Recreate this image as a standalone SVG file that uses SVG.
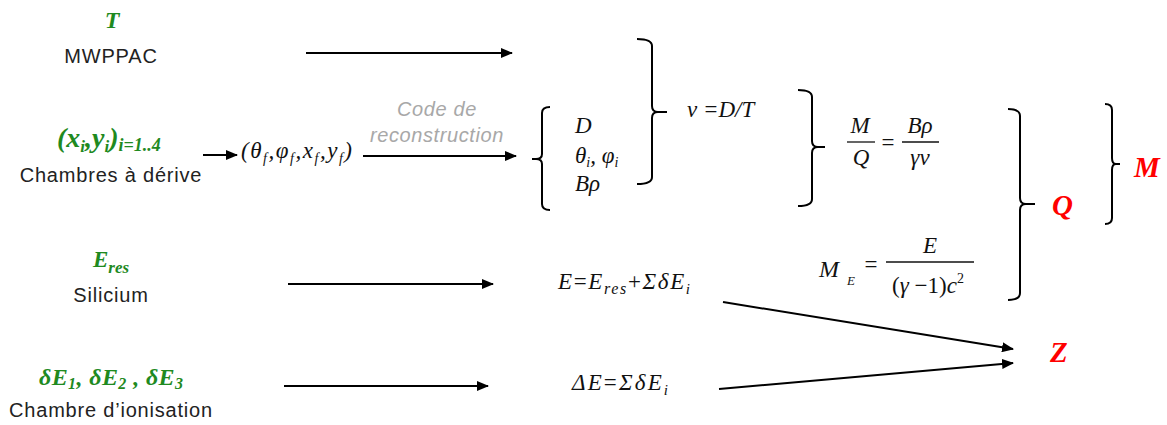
<svg xmlns="http://www.w3.org/2000/svg" width="1167" height="425" viewBox="0 0 1167 425">
<defs>
<marker id="ah" viewBox="0 0 12 10" refX="11" refY="5" markerWidth="12" markerHeight="10" markerUnits="userSpaceOnUse" orient="auto">
<path d="M0,0 L12,5 L0,10 Z" fill="#000"/>
</marker>
<style>
.lbl{font-family:"Liberation Sans",Arial,sans-serif;font-size:20px;fill:#222;letter-spacing:0.8px;text-anchor:middle}
.grn{font-family:"Liberation Serif","Times New Roman",serif;font-weight:bold;font-style:italic;fill:#1f8a1f}
.red{font-family:"Liberation Serif","Times New Roman",serif;font-weight:bold;font-style:italic;fill:#ff0000;font-size:29px}
.m{font-family:"Liberation Serif","Times New Roman",serif;font-style:italic;font-size:23px;fill:#111}
.up{font-style:normal}
.gry{font-family:"Liberation Sans",Arial,sans-serif;font-style:italic;font-size:20px;fill:#a8a8a8;letter-spacing:0.6px;text-anchor:middle}
.cn{stroke:#000;stroke-width:2;fill:none}
.br{stroke:#000;stroke-width:2;fill:none;stroke-linejoin:round}
.fl{stroke:#111;stroke-width:1.3}
</style>
</defs>
<rect width="1167" height="425" fill="#fff"/>

<g id="mwppac">
<text class="grn" x="112" y="28" style="font-size:24px" text-anchor="middle">T</text>
<text class="lbl" x="111" y="63">MWPPAC</text>
</g>

<g id="chambres">
<text class="grn" x="57" y="147" style="font-size:28px">(x<tspan style="font-size:17px" dy="5">i</tspan><tspan dy="-5">,y</tspan><tspan style="font-size:17px" dy="5">i</tspan><tspan dy="-5">)</tspan><tspan style="font-size:18px" dy="4">i=1..4</tspan></text>
<text class="lbl" x="111" y="182">Chambres à dérive</text>
</g>

<g id="silicium">
<text class="grn" x="93" y="267" style="font-size:23px">E<tspan style="font-size:17px" dy="6">res</tspan></text>
<text class="lbl" x="111" y="302">Silicium</text>
</g>

<g id="ionisation">
<text class="grn" x="39" y="385" style="font-size:24px" textLength="144" lengthAdjust="spacing">δE<tspan style="font-size:16px" dy="4">1</tspan><tspan dy="-4">, δE</tspan><tspan style="font-size:16px" dy="4">2</tspan><tspan dy="-4"> , δE</tspan><tspan style="font-size:16px" dy="4">3</tspan></text>
<text class="lbl" x="111" y="417">Chambre d’ionisation</text>
</g>

<g id="focal">
<text class="m" x="241" y="158" textLength="111" lengthAdjust="spacing">(θ<tspan style="font-size:14px" dy="5">f</tspan><tspan dy="-5">,φ</tspan><tspan style="font-size:14px" dy="5">f</tspan><tspan dy="-5">,x</tspan><tspan style="font-size:14px" dy="5">f</tspan><tspan dy="-5">,y</tspan><tspan style="font-size:14px" dy="5">f</tspan><tspan dy="-5">)</tspan></text>
</g>

<g id="code-label">
<text class="gry" x="437" y="116">Code de</text>
<text class="gry" x="437" y="142">reconstruction</text>
</g>

<g id="reco">
<path class="br" d="M550,107 Q542,107 542,113 V154 Q542,159 536,159 H532 M536,159 Q542,159 542,164 V204 Q542,210 550,210"/>
<text class="m" x="575" y="133">D</text>
<text class="m" x="575" y="163">θ<tspan style="font-size:14px" dy="4">i</tspan><tspan dy="-4">, φ</tspan><tspan style="font-size:14px" dy="4">i</tspan></text>
<text class="m" x="575" y="191">Bρ</text>
</g>

<g id="brace1">
<path class="br" d="M637,39 Q652,39 652,46 V106 Q652,112 658,112 H667 M658,112 Q652,112 652,118 V177 Q652,184 637,184"/>
</g>

<g id="velocity">
<text class="m" x="687" y="117">ν =D/T</text>
</g>

<g id="brace2">
<path class="br" d="M798,90 Q812,90 812,97 V141 Q812,147 818,147 H825 M818,147 Q812,147 812,153 V199 Q812,206 798,206"/>
</g>

<g id="mq">
<text class="m" x="860" y="133" text-anchor="middle">M</text>
<line class="fl" x1="847" y1="142" x2="875" y2="142"/>
<text class="m" x="861" y="165" text-anchor="middle">Q</text>
<text class="m up" x="888" y="150" text-anchor="middle">=</text>
<text class="m" x="920" y="133" text-anchor="middle">Bρ</text>
<line class="fl" x1="902" y1="142" x2="939" y2="142"/>
<text class="m" x="920" y="165" text-anchor="middle">γν</text>
</g>

<g id="me">
<text class="m" x="819" y="277" style="font-size:24px">M</text>
<text class="m" x="847" y="285" style="font-size:13px">E</text>
<text class="m up" x="871" y="272" text-anchor="middle">=</text>
<text class="m" x="930" y="253" text-anchor="middle">E</text>
<line class="fl" x1="886" y1="262" x2="974" y2="262"/>
<text class="m" x="928" y="293" text-anchor="middle"><tspan class="up">(</tspan>γ <tspan class="up">−1)</tspan>c<tspan class="up" style="font-size:14px" dy="-10">2</tspan></text>
</g>

<g id="brace3">
<path class="br" d="M1008,109 Q1020,109 1020,116 V198 Q1020,204 1026,204 H1035 M1026,204 Q1020,204 1020,210 V293 Q1020,300 1008,300"/>
</g>

<g id="brace4">
<path class="br" d="M1105,104 Q1112,104 1112,110 V158 Q1112,164 1116,164 H1120 M1116,164 Q1112,164 1112,170 V218 Q1112,224 1105,224"/>
</g>

<g id="Q"><text class="red" x="1052" y="215">Q</text></g>
<g id="M"><text class="red" x="1134" y="177">M</text></g>
<g id="Z"><text class="red" x="1050" y="362">Z</text></g>

<g id="energy">
<text class="m" x="558" y="289" textLength="132" lengthAdjust="spacing">E<tspan class="up">=</tspan>E<tspan style="font-size:16px" dy="5">res</tspan><tspan class="up" dy="-5">+</tspan>ΣδE<tspan style="font-size:15px" dy="5">i</tspan></text>
</g>

<g id="deltaE">
<text class="m" x="572" y="390" textLength="96" lengthAdjust="spacing">ΔE<tspan class="up">=</tspan>ΣδE<tspan style="font-size:15px" dy="5">i</tspan></text>
</g>

<g id="connectors">
<line class="cn" x1="306" y1="53" x2="512" y2="53" marker-end="url(#ah)"/>
<line class="cn" x1="203" y1="155" x2="237" y2="155" marker-end="url(#ah)"/>
<line class="cn" x1="363" y1="156" x2="516" y2="156" marker-end="url(#ah)"/>
<line class="cn" x1="288" y1="284" x2="493" y2="284" marker-end="url(#ah)"/>
<line class="cn" x1="284" y1="386" x2="488" y2="386" marker-end="url(#ah)"/>
<line class="cn" x1="723" y1="302" x2="1013" y2="349" marker-end="url(#ah)"/>
<line class="cn" x1="719" y1="389" x2="1013" y2="363" marker-end="url(#ah)"/>
</g>
</svg>
